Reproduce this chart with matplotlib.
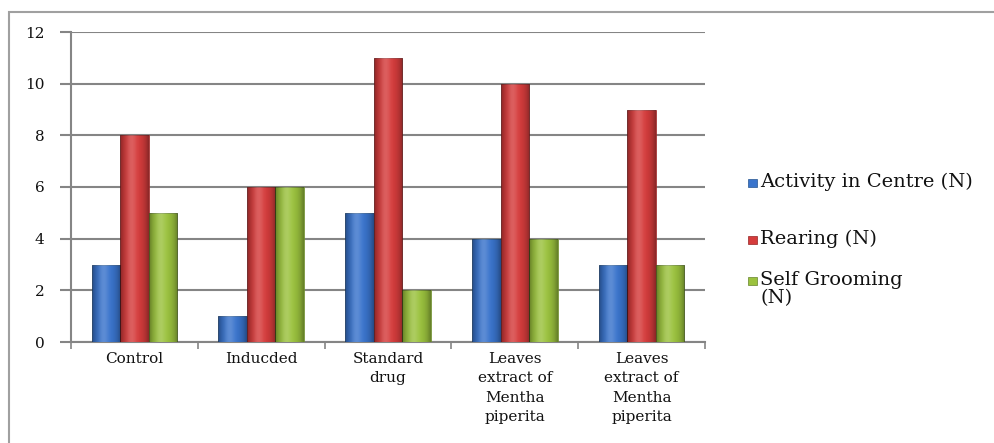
import numpy as np
import matplotlib.pyplot as plt
from matplotlib.patches import Rectangle

# Groups and counts per behaviour
groups = ["Control", "Inducded", "Standard\ndrug",
          "Leaves\nextract of\nMentha\npiperita", "Leaves\nextract of\nMentha\npiperita"]
activity = [3, 1, 5, 4, 3]
rearing = [8, 6, 11, 10, 9]
grooming = [5, 6, 2, 4, 3]

series = [
    ("Activity in Centre (N)", activity, "#3a74cc", "#24548f"),
    ("Rearing (N)", rearing, "#d53c3c", "#952424"),
    ("Self Grooming\n(N)", grooming, "#9bc23e", "#66842a"),
]

plt.rcParams['font.family'] = ['DejaVu Serif']

fig = plt.figure(figsize=(9.94, 4.43), dpi=100)
ax = fig.add_axes([71/994, (443-342)/443, (705-71)/994, (342-32)/443])

# thin outer frame (left + top visible)
fig.patches.append(Rectangle((9/994, -0.1), 1.2, (443-12)/443 + 0.1, transform=fig.transFigure,
                             fill=False, edgecolor="#a0a0a0", linewidth=1.5))

# cylinder shading: dark towards the edges, soft highlight left of centre
t = np.linspace(-1, 1, 64)
dark = np.dstack([np.zeros(64), np.zeros(64), np.zeros(64), 0.35 * np.abs(t) ** 2.5])
light = np.dstack([np.ones(64), np.ones(64), np.ones(64), 0.18 * np.exp(-((t + 0.2) / 0.35) ** 2)])

x = np.arange(len(groups))
w = 0.225
for k, (name, vals, col, edge) in enumerate(series):
    pos = x + (k - 1) * w
    bars = ax.bar(pos, vals, width=w, color=col, edgecolor=edge, linewidth=0.5, zorder=3)
    for b in bars:
        x0, y0 = b.get_x(), b.get_y()
        ext = (x0, x0 + b.get_width(), y0, y0 + b.get_height())
        for g in (dark, light):
            im = ax.imshow(g, extent=ext, aspect='auto', zorder=4, interpolation='bilinear')
            im.set_clip_path(b)

ax.set_xlim(-0.5, len(groups) - 0.5)
ax.set_ylim(0, 12)
ax.set_yticks(range(0, 13, 2))
ax.yaxis.grid(True, color="#858585", linewidth=1.5, zorder=0)
ax.set_axisbelow(True)

ax.set_xticks(x)
ax.set_xticklabels(groups, fontsize=11, linespacing=1.5, color="#111111")
ax.set_xticks(np.arange(-0.5, len(groups)), minor=True)
ax.tick_params(axis='x', which='major', length=0, pad=7)
ax.tick_params(axis='x', which='minor', length=5, color="#858585", width=1.2)
ax.tick_params(axis='y', length=8, color="#858585", width=1.5, pad=11, labelsize=11,
               labelcolor="#111111")

for s in ("top", "right"):
    ax.spines[s].set_visible(False)
for s in ("left", "bottom"):
    ax.spines[s].set_color("#858585")
    ax.spines[s].set_linewidth(1.5)

# legend on the right
ys = [183, 240, 281]
for (name, vals, col, edge), yy in zip(series, ys):
    fig.patches.append(Rectangle((748/994, 1 - (yy + 4)/443), 9/994, 8/443,
                                 transform=fig.transFigure, facecolor=col, edgecolor=edge,
                                 linewidth=0.5))
    fig.text(760/994, 1 - (yy - 10)/443, name, fontsize=14, va='top', ha='left',
             color="#111111", linespacing=1.0)

fig.savefig("out.png", dpi=100)
